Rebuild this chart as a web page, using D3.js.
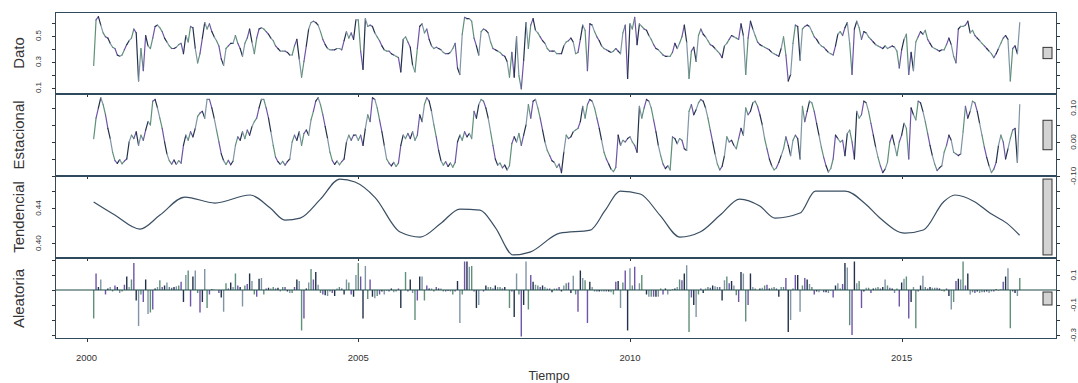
<!DOCTYPE html>
<html><head><meta charset="utf-8">
<script src="https://cdn.jsdelivr.net/npm/d3@7"></script>
<style>body{margin:0;background:#fff}svg{display:block}</style>
</head><body><svg id="c" width="1078" height="383"></svg>
<script>
// ---- data ----
const startYear = 2000, startPeriod = 4, frequency = 23;
const panelLabels = ["Dato", "Estacional", "Tendencial", "Aleatoria"];
const xTickValues = [2000, 2005, 2010, 2015];
const xTitle = "Tiempo";

const dato = [
0.27,0.62,0.645,0.58,0.52,0.49,0.48,0.44,0.41,0.40,
0.35,0.34,0.35,0.39,0.43,0.46,0.48,0.55,0.52,0.15,
0.40,0.23,0.50,0.42,0.40,0.48,0.57,0.58,0.56,0.53,
0.48,0.45,0.42,0.40,0.40,0.41,0.43,0.44,0.36,0.50,
0.45,0.57,0.56,0.40,0.29,0.36,0.48,0.60,0.55,0.59,
0.53,0.49,0.46,0.42,0.32,0.27,0.40,0.42,0.44,0.44,
0.50,0.44,0.40,0.34,0.44,0.48,0.55,0.45,0.36,0.48,
0.55,0.56,0.55,0.53,0.51,0.48,0.46,0.42,0.40,0.38,
0.38,0.38,0.37,0.35,0.35,0.42,0.47,0.32,0.18,0.30,
0.42,0.55,0.60,0.61,0.60,0.58,0.53,0.47,0.43,0.40,
0.39,0.39,0.39,0.40,0.40,0.39,0.46,0.53,0.48,0.52,
0.47,0.62,0.62,0.38,0.24,0.63,0.57,0.58,0.57,0.52,
0.49,0.46,0.42,0.39,0.38,0.38,0.36,0.35,0.34,0.33,
0.22,0.47,0.49,0.45,0.41,0.27,0.22,0.40,0.57,0.59,
0.52,0.55,0.47,0.42,0.40,0.41,0.40,0.39,0.37,0.36,
0.36,0.37,0.40,0.44,0.25,0.20,0.51,0.64,0.63,0.63,
0.61,0.48,0.42,0.35,0.53,0.55,0.54,0.52,0.45,0.40,
0.39,0.38,0.37,0.35,0.34,0.30,0.18,0.37,0.18,0.49,
0.19,0.09,0.31,0.60,0.40,0.58,0.63,0.54,0.52,0.49,
0.46,0.44,0.40,0.38,0.38,0.38,0.36,0.36,0.36,0.42,
0.45,0.46,0.48,0.45,0.36,0.37,0.47,0.58,0.54,0.23,
0.59,0.58,0.53,0.49,0.46,0.42,0.40,0.39,0.38,0.37,
0.38,0.40,0.38,0.36,0.52,0.58,0.17,0.59,0.55,0.64,
0.43,0.59,0.57,0.55,0.54,0.50,0.47,0.43,0.40,0.39,
0.37,0.35,0.34,0.34,0.34,0.37,0.44,0.40,0.44,0.49,
0.58,0.45,0.17,0.38,0.41,0.30,0.50,0.55,0.51,0.49,
0.46,0.43,0.42,0.40,0.38,0.36,0.33,0.42,0.44,0.47,
0.50,0.49,0.48,0.47,0.59,0.50,0.20,0.48,0.61,0.55,
0.50,0.45,0.43,0.42,0.41,0.40,0.39,0.37,0.36,0.35,
0.34,0.40,0.49,0.35,0.15,0.20,0.44,0.58,0.57,0.31,
0.55,0.57,0.58,0.57,0.53,0.49,0.47,0.44,0.42,0.41,
0.39,0.37,0.36,0.35,0.42,0.51,0.53,0.50,0.56,0.60,
0.44,0.20,0.55,0.61,0.56,0.47,0.53,0.52,0.49,0.47,
0.45,0.43,0.42,0.41,0.40,0.42,0.40,0.41,0.42,0.41,
0.38,0.25,0.39,0.47,0.51,0.20,0.37,0.23,0.45,0.49,
0.53,0.51,0.54,0.47,0.44,0.41,0.40,0.39,0.38,0.39,
0.39,0.43,0.48,0.43,0.34,0.29,0.55,0.57,0.57,0.58,
0.61,0.52,0.54,0.50,0.48,0.46,0.44,0.42,0.40,0.38,
0.36,0.33,0.36,0.40,0.44,0.48,0.50,0.47,0.15,0.40,
0.42,0.36,0.60];

const estacional = [
0.01,0.07,0.10,0.13,0.11,0.08,0.04,0.01,-0.03,-0.055,
-0.063,-0.052,-0.064,-0.056,-0.05,0.00,0.02,0.01,0.03,-0.01,
0.02,0.005,0.035,0.06,0.05,0.12,0.125,0.10,0.07,0.04,
0.00,-0.035,-0.055,-0.065,-0.053,-0.066,-0.055,-0.062,-0.01,0.02,
0.005,0.03,0.015,0.04,0.075,0.085,0.09,0.07,0.125,0.125,
0.10,0.07,0.035,0.0,-0.035,-0.055,-0.066,-0.054,-0.067,-0.056,
-0.01,0.015,0.005,0.03,0.01,0.035,0.02,0.045,0.06,0.07,
0.10,0.125,0.125,0.10,0.07,0.03,-0.01,-0.045,-0.058,-0.066,
-0.057,-0.068,-0.058,-0.05,0.0,0.02,0.005,0.03,-0.01,0.025,
0.035,0.02,0.065,0.09,0.12,0.13,0.11,0.08,0.045,0.01,
-0.03,-0.055,-0.066,-0.056,-0.067,-0.058,-0.05,0.0,0.02,0.005,
0.02,0.02,0.005,0.02,-0.01,0.04,0.08,0.06,0.13,0.125,
0.10,0.065,0.03,-0.01,-0.05,-0.062,-0.07,-0.06,-0.072,-0.062,
-0.01,0.02,0.01,0.025,0.01,0.03,0.005,0.02,0.08,0.06,
0.11,0.13,0.12,0.09,0.05,0.015,-0.025,-0.055,-0.068,-0.058,
-0.072,-0.062,-0.074,-0.06,0.0,0.02,0.005,0.03,0.015,0.025,
0.01,0.09,0.07,0.11,0.125,0.12,0.10,0.07,0.03,-0.01,
-0.05,-0.068,-0.062,-0.076,-0.068,-0.082,-0.07,-0.005,0.015,0.0,
0.025,-0.01,0.02,0.05,0.11,0.07,0.12,0.125,0.10,0.07,
0.035,0.0,-0.025,-0.04,-0.055,-0.06,-0.075,-0.065,-0.09,-0.03,
0.02,0.01,0.015,0.03,0.035,0.04,0.06,0.105,0.07,0.11,
0.125,0.12,0.10,0.07,0.04,0.005,-0.03,-0.05,-0.065,-0.08,
-0.087,-0.075,0.02,-0.01,0.005,0.0,0.01,0.015,0.0,-0.01,
-0.03,0.105,0.07,0.10,0.125,0.12,0.10,0.065,0.03,-0.01,
-0.04,-0.065,-0.078,-0.07,-0.082,0.015,0.01,-0.005,0.01,0.005,
-0.02,-0.025,0.09,0.11,0.08,0.095,0.115,0.125,0.12,0.10,
0.07,0.035,0.0,-0.035,-0.065,-0.082,-0.072,-0.04,0.015,0.0,
0.005,-0.01,-0.02,0.01,0.04,0.02,0.10,0.08,0.09,0.115,
0.12,0.105,0.08,0.05,0.01,-0.02,-0.05,-0.07,-0.082,-0.076,
-0.06,-0.04,-0.02,0.015,-0.01,-0.04,0.005,0.02,0.01,-0.05,
0.105,0.06,0.09,0.12,0.115,0.09,0.055,0.02,-0.015,-0.045,
-0.07,-0.088,-0.078,-0.05,0.02,0.01,0.0,0.005,-0.04,0.025,
0.035,0.0,-0.05,0.09,0.07,0.08,0.12,0.115,0.09,0.055,
0.02,-0.015,-0.045,-0.07,-0.09,-0.08,-0.06,0.0,0.02,-0.01,
-0.04,0.0,0.02,0.055,0.04,-0.05,0.10,0.08,0.065,0.12,
0.115,0.09,0.06,0.025,-0.01,-0.04,-0.065,-0.084,-0.076,-0.07,
-0.03,-0.01,0.02,0.005,-0.03,-0.035,-0.04,-0.035,0.03,0.105,
0.07,0.09,0.12,0.115,0.09,0.055,0.02,-0.015,-0.045,-0.07,
-0.09,-0.08,-0.06,-0.01,0.02,0.0,-0.05,-0.02,0.01,0.035,
0.04,-0.06,0.11];

const aleatoria = [
-0.19,0.11,0.02,0.07,0.0,-0.03,0.01,0.02,-0.01,0.03,
0.02,-0.02,-0.01,0.035,0.09,0.02,0.07,0.18,-0.07,-0.24,
-0.03,-0.08,0.07,-0.16,-0.15,-0.13,0.01,0.02,0.065,0.02,
0.03,0.05,0.02,0.015,0.02,0.025,0.03,0.055,-0.08,0.10,
0.13,-0.11,0.09,0.13,-0.02,-0.15,-0.08,0.14,-0.12,-0.03,
0.005,0.004,0.0,-0.02,-0.05,-0.145,0.045,0.01,0.05,0.02,
0.11,0.03,0.02,-0.11,0.03,0.04,0.11,0.06,-0.03,-0.045,
0.075,0.08,-0.03,0.01,0.015,0.01,0.02,0.01,0.015,-0.01,
0.02,0.02,-0.01,-0.02,-0.02,0.02,0.07,0.06,-0.27,-0.19,
0.01,0.05,0.14,0.07,0.12,0.035,-0.02,-0.03,-0.035,-0.04,
-0.01,-0.02,-0.04,0.01,0.02,0.01,-0.03,0.07,0.05,-0.03,
-0.045,0.10,0.18,0.09,-0.19,0.16,-0.06,0.07,-0.045,-0.055,
-0.04,-0.03,-0.01,-0.03,-0.005,-0.01,0.01,-0.015,-0.01,0.01,
-0.12,0.0,0.12,-0.01,0.07,-0.02,-0.2,-0.07,0.09,0.09,
-0.07,0.03,0.01,0.01,-0.01,0.02,0.01,0.01,-0.01,-0.01,
-0.005,-0.01,-0.03,-0.01,0.06,-0.22,-0.03,0.19,0.19,0.155,
0.16,-0.01,-0.12,-0.10,0.0,-0.01,0.03,0.02,0.02,0.01,
0.03,0.02,0.02,0.01,0.02,0.0,-0.12,-0.01,-0.18,0.11,
-0.03,-0.31,-0.10,0.19,-0.13,0.10,0.055,0.035,0.03,0.02,
0.03,0.02,0.01,0.01,-0.015,0.01,0.01,0.02,-0.01,0.03,
0.045,0.05,-0.02,0.095,-0.03,-0.145,0.13,0.08,0.065,-0.22,
0.055,0.02,-0.01,-0.01,-0.01,-0.01,-0.01,-0.01,-0.01,-0.015,
-0.03,0.055,0.06,-0.12,0.05,0.13,-0.27,0.145,0.03,0.155,
0.0,0.045,0.10,0.0,-0.03,-0.045,-0.045,-0.045,-0.045,-0.045,
0.01,-0.03,0.01,-0.03,-0.005,0.005,0.01,0.02,0.07,0.065,
0.11,0.165,-0.28,-0.05,-0.10,-0.18,-0.03,0.01,-0.02,0.01,
0.02,0.015,0.03,0.025,0.02,0.02,-0.07,0.065,0.09,0.045,
0.06,0.03,-0.035,-0.08,0.12,0.11,-0.21,-0.10,0.11,0.02,
0.01,0.0,0.01,0.015,0.03,0.035,0.01,0.015,0.02,0.01,
-0.045,0.02,0.02,0.08,-0.28,-0.2,0.01,0.10,0.10,-0.145,
0.03,0.08,0.07,0.04,0.02,-0.03,-0.01,-0.015,0.0,-0.015,
-0.015,-0.02,-0.005,-0.05,0.03,0.045,0.01,0.04,0.18,0.15,
-0.235,-0.30,0.19,0.045,0.06,-0.12,-0.01,0.015,0.015,-0.02,
0.01,0.015,0.02,0.01,0.02,0.07,0.03,0.015,0.01,-0.02,
0.01,-0.11,0.05,0.075,0.09,-0.19,-0.08,0.02,-0.255,-0.01,
0.03,0.095,0.02,0.01,0.02,0.015,0.015,0.015,0.01,-0.005,
-0.01,0.01,-0.04,-0.13,-0.08,0.06,0.075,0.07,0.19,0.03,
0.11,-0.03,-0.015,-0.02,-0.01,-0.02,-0.015,-0.015,-0.01,-0.02,
-0.01,-0.01,0.005,-0.005,0.005,0.055,0.09,0.145,-0.255,-0.01,
-0.02,-0.04,0.08];

// trend: smooth component, sampled at these times
const tendencialTime = [2000.13,2000.52,2000.98,2001.35,2001.81,2002.36,2003.01,2003.38,2003.65,2003.93,
2004.30,2004.66,2004.94,2005.31,2005.77,2006.14,2006.51,2006.87,2007.24,2007.52,
2007.85,2008.16,2008.71,2009.27,2009.54,2009.82,2010.19,2010.55,2010.92,2011.29,
2011.66,2012.02,2012.39,2012.67,2013.13,2013.41,2013.96,2014.33,2014.60,2015.06,
2015.40,2015.77,2015.98,2016.35,2016.63,2016.94,2017.17];
const tendencialValues = [0.4469,0.432,0.416,0.432,0.4526,0.4457,0.4549,0.440,0.4263,0.4286,
0.450,0.4731,0.4697,0.452,0.4126,0.4069,0.422,0.4389,0.4377,0.418,
0.3865,0.3897,0.4114,0.4149,0.437,0.4594,0.456,0.432,0.4069,0.4126,
0.432,0.4503,0.4423,0.4286,0.4343,0.4594,0.4594,0.445,0.4286,0.4114,
0.415,0.447,0.4549,0.447,0.434,0.4225,0.409];

// ---- layout / style ----
const plotLeft = 55, plotRight = 1057;
const segColors = ["#5f9078", "#6e55a8", "#22324a", "#7f95a6"];
const frameColor = "#2e4a5c";
const textColor = "#333333";
const fontFamily = "Liberation Sans, Arial, sans-serif";

const svg = d3.select("#c");
const time = dato.map((_, i) => startYear + (startPeriod - 1 + i) / frequency);
const x = d3.scaleLinear().domain([2000, 2015]).range([86.6, 901.65]);

const tExt = d3.extent(tendencialValues);
const barSpan = tExt[1] - tExt[0];

const panels = [
  {label: panelLabels[0], top: 12, bottom: 94, domain: [0.05, 0.681], ticks: [0.1,0.2,0.3,0.4,0.5,0.6], labels: [0.1,0.3,0.5], side: "left", fmt: v => v.toFixed(1), kind: "line", values: dato},
  {label: panelLabels[1], top: 94, bottom: 176, domain: [-0.1, 0.141], ticks: [-0.1,-0.05,0,0.05,0.1], labels: [-0.1,0,0.1], side: "right", fmt: v => v.toFixed(2), kind: "line", values: estacional},
  {label: panelLabels[2], top: 176, bottom: 258, domain: [0.383, 0.4766], ticks: [0.40,0.42,0.44,0.46], labels: [0.40,0.44], side: "left", fmt: v => v.toFixed(2), kind: "trend"},
  {label: panelLabels[3], top: 258, bottom: 339, domain: [-0.327, 0.2133], ticks: [-0.3,-0.2,-0.1,0,0.1,0.2], labels: [0.1,-0.1,-0.3], side: "right", fmt: v => v.toFixed(1), kind: "bars", values: aleatoria}
];

panels.forEach((p, pi) => {
  const y = d3.scaleLinear().domain(p.domain).range([p.bottom, p.top]);
  const g = svg.append("g");
  const clipId = "clip" + pi;
  svg.append("clipPath").attr("id", clipId).append("rect")
    .attr("x", plotLeft).attr("y", p.top).attr("width", plotRight - plotLeft).attr("height", p.bottom - p.top);
  const inner = g.append("g").attr("clip-path", `url(#${clipId})`);

  if (p.kind === "line") {
    const segs = d3.range(p.values.length - 1);
    inner.selectAll("line.s").data(segs).join("line")
      .attr("x1", i => x(time[i])).attr("y1", i => y(p.values[i]))
      .attr("x2", i => x(time[i + 1])).attr("y2", i => y(p.values[i + 1]))
      .attr("stroke", i => segColors[i % segColors.length])
      .attr("stroke-width", 1.2).attr("stroke-linecap", "round");
  } else if (p.kind === "trend") {
    const line = d3.line().x((d, i) => x(tendencialTime[i])).y(d => y(d)).curve(d3.curveMonotoneX);
    inner.append("path").attr("d", line(tendencialValues)).attr("fill", "none")
      .attr("stroke", "#3a4f63").attr("stroke-width", 1.2);
  } else {
    inner.selectAll("line.b").data(p.values).join("line")
      .attr("x1", (d, i) => x(time[i])).attr("x2", (d, i) => x(time[i]))
      .attr("y1", y(0)).attr("y2", d => y(d))
      .attr("stroke", (d, i) => segColors[i % segColors.length])
      .attr("stroke-width", 1.4);
    g.append("line").attr("x1", plotLeft).attr("x2", plotRight).attr("y1", y(0)).attr("y2", y(0))
      .attr("stroke", "#1c4a46").attr("stroke-width", 1.1);
  }

  // range bar
  const mid = (p.domain[0] + p.domain[1]) / 2;
  g.append("rect").attr("x", 1043).attr("width", 9)
    .attr("y", y(mid + barSpan / 2)).attr("height", y(mid - barSpan / 2) - y(mid + barSpan / 2))
    .attr("fill", "#d3d3d3").attr("stroke", "#333").attr("stroke-width", 1);

  // frame
  g.append("rect").attr("x", plotLeft + 0.5).attr("y", p.top + 0.5)
    .attr("width", plotRight - plotLeft - 1).attr("height", p.bottom - p.top - 1)
    .attr("fill", "none").attr("stroke", frameColor).attr("stroke-width", 1);

  // y ticks both sides
  p.ticks.forEach(t => {
    const yy = Math.round(y(t)) + 0.5;
    g.append("line").attr("x1", plotLeft - 3).attr("x2", plotLeft).attr("y1", yy).attr("y2", yy).attr("stroke", textColor);
    g.append("line").attr("x1", plotRight).attr("x2", plotRight + 3).attr("y1", yy).attr("y2", yy).attr("stroke", textColor);
  });
  p.labels.forEach(t => {
    const lx = p.side === "left" ? 38.5 : 1073.5;
    g.append("text").attr("transform", `translate(${lx},${y(t)}) rotate(-90)`)
      .attr("text-anchor", "middle").attr("dy", "0.35em")
      .attr("font-family", fontFamily).attr("font-size", 8)
      .attr("fill", textColor).text(p.fmt(t));
  });

  // x ticks on panel bottom
  xTickValues.forEach(v => {
    const xx = Math.round(x(v)) + 0.5;
    g.append("line").attr("x1", xx).attr("x2", xx).attr("y1", p.bottom).attr("y2", p.bottom + 3).attr("stroke", textColor);
  });

  // panel label
  svg.append("text").attr("transform", `translate(18.5,${(p.top + p.bottom) / 2}) rotate(-90)`)
    .attr("text-anchor", "middle").attr("dy", "0.35em")
    .attr("font-family", fontFamily).attr("font-size", 15)
    .attr("fill", textColor).text(p.label);
});

// x tick labels
xTickValues.forEach(v => {
  svg.append("text").attr("x", x(v)).attr("y", 360.5).attr("text-anchor", "middle")
    .attr("font-family", fontFamily).attr("font-size", 9.5)
    .attr("fill", textColor).text(v);
});
svg.append("text").attr("x", 549).attr("y", 380).attr("text-anchor", "middle")
  .attr("font-family", fontFamily).attr("font-size", 12.5)
  .attr("fill", textColor).text(xTitle);
</script>
</body></html>
